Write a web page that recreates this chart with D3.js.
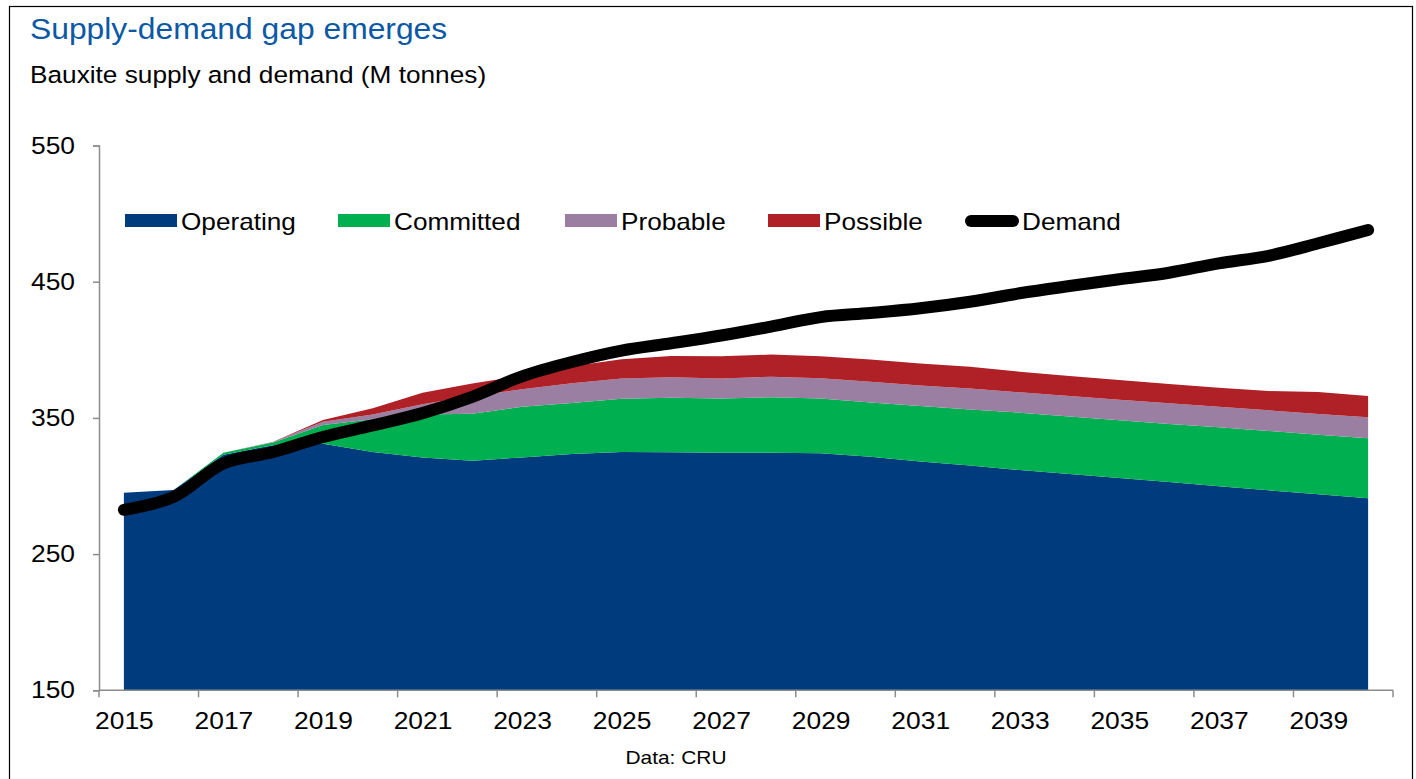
<!DOCTYPE html>
<html>
<head>
<meta charset="utf-8">
<script src="https://cdn.jsdelivr.net/npm/d3@7"></script>
<style>
  html, body { margin: 0; padding: 0; background: #fff; }
  svg { display: block; font-family: "Liberation Sans", Arial, sans-serif; }
</style>
</head>
<body>
<svg id="chart" width="1416" height="779"></svg>
<script>
const years = d3.range(2015, 2041);
const operating = [295, 297, 323, 330, 331, 325, 321, 318.5, 321, 323.5, 325, 324.7, 324.5, 324.5, 324, 321.5, 318, 315, 311.7, 308.8, 305.9, 302.9, 299.8, 296.8, 293.9, 291];
const committedTop = [295, 297, 324.5, 332, 344.8, 349, 352.5, 353, 358.2, 361, 364, 364.8, 364.2, 365.1, 364.2, 361.3, 358.7, 356.2, 353.8, 351.1, 348.2, 345.5, 343.1, 340.4, 337.7, 335];
const probableTop = [295, 297, 324.5, 332.5, 347.2, 352.5, 360, 366, 371, 375.4, 379, 379.8, 379, 380.3, 379.2, 376.5, 373.8, 371.5, 368.8, 366.1, 363.4, 360.7, 358.2, 355.6, 352.9, 350.4];
const possibleTop = [295, 297, 324.5, 332.5, 348.5, 357, 368.5, 375.2, 381, 388, 393, 395.4, 395.2, 396.5, 395.2, 392.8, 390, 387.6, 383.9, 380.8, 377.8, 374.9, 372.2, 369.7, 369, 366.1];
const demand = [282.5, 292, 316.5, 325, 336, 344.5, 353.5, 365.5, 380.5, 391, 399.4, 404.8, 410.5, 417, 424, 427, 430.5, 435.3, 441.5, 446.8, 451.8, 456.6, 463.5, 469, 478.2, 488];
const yTicks = [150, 250, 350, 450, 550];
const xTickLabels = [2015, 2017, 2019, 2021, 2023, 2025, 2027, 2029, 2031, 2033, 2035, 2037, 2039];

const committed = committedTop.map((v, i) => v - operating[i]);
const probable = probableTop.map((v, i) => v - committedTop[i]);
const possible = possibleTop.map((v, i) => v - probableTop[i]);

const keys = ["Operating", "Committed", "Probable", "Possible"];
const colors = { Operating: "#003c7d", Committed: "#00af50", Probable: "#9b7fa3", Possible: "#b02127" };
const table = years.map((yr, i) => ({ year: yr, Operating: operating[i], Committed: committed[i], Probable: probable[i], Possible: possible[i], Demand: demand[i] }));

const svg = d3.select("#chart");
const X0 = 99, X1 = 1393, Y0 = 690.3, Y1 = 145.5;

function stretch(sel, factor) {
  sel.each(function () {
    const w = this.getComputedTextLength();
    d3.select(this).attr("textLength", w * factor).attr("lengthAdjust", "spacingAndGlyphs");
  });
}

svg.append("rect").attr("x", 9.5).attr("y", 6.5).attr("width", 1403).attr("height", 800)
  .attr("fill", "none").attr("stroke", "#000").attr("stroke-width", 1.2);

const title = svg.append("text").attr("x", 30).attr("y", 39).attr("fill", "#0b58a5")
  .attr("font-size", 30).text("Supply-demand gap emerges");
stretch(title, 1.06);
const sub = svg.append("text").attr("x", 30).attr("y", 83).attr("fill", "#000")
  .attr("font-size", 24.5).text("Bauxite supply and demand (M tonnes)");
stretch(sub, 1.07);

const xBand = d3.scaleBand().domain(years).range([X0, X1]);
const x = d3.scalePoint().domain(years).range([X0, X1]).padding(0.5);
const y = d3.scaleLinear().domain([150, 550]).range([Y0, Y1]);

const stack = d3.stack().keys(keys)(table);
svg.append("g").selectAll("path").data(stack).join("path")
  .attr("fill", d => colors[d.key])
  .attr("d", d => d3.area().x(p => x(p.data.year))
      .y0(p => d.key === "Operating" ? y(150) : y(p[0]))
      .y1(p => y(p[1])).curve(d3.curveLinear)(d));

const gy = svg.append("g").attr("transform", `translate(${X0},0)`)
  .call(d3.axisLeft(y).tickValues(yTicks).tickSize(6).tickPadding(18).tickFormat(d3.format("d")));
gy.select(".domain").attr("stroke", "#8c8c8c").attr("stroke-width", 1.5);
gy.selectAll(".tick line").attr("stroke", "#8c8c8c").attr("stroke-width", 1.5);
gy.selectAll("text").attr("font-size", 24).attr("fill", "#000").attr("font-family", "Liberation Sans, Arial, sans-serif");
stretch(gy.selectAll("text"), 1.1);

const gx = svg.append("g").attr("transform", `translate(0,${Y0})`)
  .call(d3.axisBottom(x).tickValues(xTickLabels).tickSize(0).tickPadding(22).tickFormat(d3.format("d")));
gx.select(".domain").remove();
gx.selectAll("text").attr("font-size", 24).attr("fill", "#000").attr("font-family", "Liberation Sans, Arial, sans-serif").attr("dy", "0.68em");
stretch(gx.selectAll("text"), 1.1);
svg.append("line").attr("x1", X0).attr("x2", X1).attr("y1", Y0).attr("y2", Y0)
  .attr("stroke", "#8c8c8c").attr("stroke-width", 1.5);
const tickPos = xTickLabels.map(yr => xBand(yr)).concat([X1]);
svg.append("g").selectAll("line").data(tickPos).join("line")
  .attr("x1", d => d).attr("x2", d => d).attr("y1", Y0).attr("y2", Y0 + 7)
  .attr("stroke", "#8c8c8c").attr("stroke-width", 1.5);

svg.append("path").datum(table)
  .attr("fill", "none").attr("stroke", "#000").attr("stroke-width", 12)
  .attr("stroke-linecap", "round").attr("stroke-linejoin", "round")
  .attr("d", d3.line().x(d => x(d.year)).y(d => y(d.Demand)).curve(d3.curveCatmullRom.alpha(0.5)));

const legendItems = [
  { name: "Operating", sx: 125, type: "rect" },
  { name: "Committed", sx: 338, type: "rect" },
  { name: "Probable", sx: 565, type: "rect" },
  { name: "Possible", sx: 768, type: "rect" },
  { name: "Demand", sx: 966, type: "line" }
];
const lg = svg.append("g");
legendItems.forEach(it => {
  if (it.type === "rect") {
    lg.append("rect").attr("x", it.sx).attr("y", 214).attr("width", 52).attr("height", 13).attr("fill", colors[it.name]);
  } else {
    lg.append("line").attr("x1", it.sx + 5).attr("x2", it.sx + 47).attr("y1", 221).attr("y2", 221)
      .attr("stroke", "#000").attr("stroke-width", 12).attr("stroke-linecap", "round");
  }
  const t = lg.append("text").attr("x", it.sx + 56).attr("y", 229.5).attr("font-size", 24).attr("fill", "#000").text(it.name);
  stretch(t, 1.09);
});

const src = svg.append("text").attr("x", 676).attr("y", 764).attr("text-anchor", "middle")
  .attr("font-size", 19).attr("fill", "#000").text("Data: CRU");
stretch(src, 1.1);
</script>
</body>
</html>
